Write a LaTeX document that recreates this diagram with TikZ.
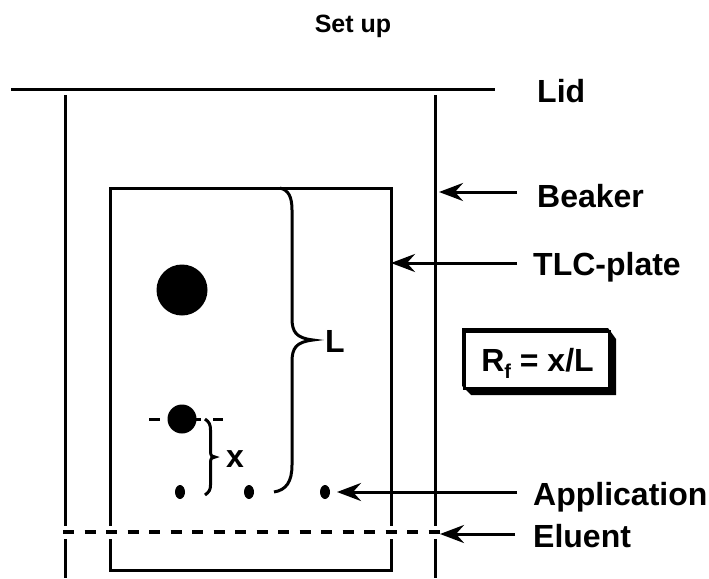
\documentclass[tikz,border=0pt]{standalone}
\usepackage{fontspec}
\setmainfont{Liberation Sans}
\usetikzlibrary{arrows.meta,shapes.geometric}
\tikzset{
  wall/.style={line width=3pt,black},
  lbl/.style={font=\fontsize{32}{36}\selectfont\bfseries,anchor=base west,inner sep=0pt},
  bigtext/.style={font=\fontsize{32}{36}\selectfont\bfseries,anchor=base,inner sep=0pt},
  pointer/.style={line width=3pt,-{Stealth[length=24pt,width=18pt,inset=8pt]}},
  spot/.style={circle,fill=black,inner sep=0pt},
  appl/.style={ellipse,fill=black,inner sep=0pt,minimum width=10pt,minimum height=14pt}
}
\begin{document}
\begin{tikzpicture}[x=1pt,y=-1pt]
\useasboundingbox (0,0) rectangle (709,578);
\node[font=\fontsize{25}{30}\selectfont\bfseries,inner sep=0pt,anchor=base] (title) at (353,33) {Set up};
% lid and beaker
\coordinate (lidL) at (11,89.5); \coordinate (lidR) at (495,89.5);
\draw[line width=3.6pt] (lidL) -- (lidR);
\coordinate (bl1) at (65,95); \coordinate (bl2) at (65,578);
\coordinate (br1) at (435,95); \coordinate (br2) at (435,578);
\draw[wall] (bl1) -- (bl2);
\draw[wall] (br1) -- (br2);
% plate
\node[draw,line width=2.6pt,minimum width=281pt,minimum height=382pt,inner sep=0pt,anchor=north west] (plate) at (109,187) {};
% eluent
\coordinate (elL) at (63,532); \coordinate (elR) at (440,532);
\draw[white,line width=13pt] (elL) -- (elR);
\draw[line width=3.4pt,dash pattern=on 11pt off 10.5pt] (elL) -- (elR);
% spots
\node[spot,minimum size=51pt] (s1) at (182,290) {};
\node[spot,minimum size=29pt] (s2) at (182,419) {};
\coordinate (dl1) at (149,419); \coordinate (dl2) at (160,419);
\coordinate (dr1) at (196,419); \coordinate (dr2) at (223,419);
\draw[line width=3pt] (dl1) -- (dl2);
\draw[line width=3pt,dash pattern=on 5pt off 12pt on 10pt] (dr1) -- (dr2);
\node[appl] (a1) at (180,492) {};
\node[appl] (a2) at (249,492) {};
\node[appl] (a3) at (325,492) {};
% braces
\coordinate (bxT) at (205,419); \coordinate (bxB) at (205,495);
\draw[line width=3pt] (bxT) .. controls (209,422) and (210.5,424) .. (210.5,430) -- (210.5,451) .. controls (210.5,456) and (212,457) .. (215,457) .. controls (212,457) and (210.5,458) .. (210.5,463) -- (210.5,485) .. controls (210.5,490) and (209,492) .. (bxB);
\coordinate (bLT) at (280,188); \coordinate (bLB) at (274,492);
\draw[line width=3pt] (bLT) .. controls (288,190) and (292,196) .. (292,210) -- (292,318) .. controls (292,332) and (296,338) .. (313,340) .. controls (296,342) and (292,348) .. (292,362) -- (292,465) .. controls (292,482) and (286,490) .. (bLB);
\node[bigtext] (x) at (235,467) {x};
\node[bigtext] (L) at (335,352) {L};
% labels
\node[lbl] (lid) at (537,102) {Lid};
\node[lbl] (beaker) at (537,207) {Beaker};
\node[lbl] (tlc) at (533,275) {TLC-plate};
\node[lbl] (app) at (533,505) {Application};
\node[lbl] (elu) at (533,547) {Eluent};
% arrows
\coordinate (sB) at (517,192); \coordinate (pB) at (439,192);
\coordinate (sT) at (517,263); \coordinate (pT) at (391,263);
\coordinate (sA) at (517,492); \coordinate (pA) at (337,492);
\coordinate (sE) at (515,534); \coordinate (pE) at (440,534);
\draw[pointer] (sB) -- (pB);
\draw[pointer] (sT) -- (pT);
\draw[pointer] (sA) -- (pA);
\draw[pointer] (sE) -- (pE);
% Rf box
\fill (462,328) -- (608,328) -- (616,339) -- (616,395) -- (471,395) -- (462,386) -- cycle;
\node[draw,line width=2.6pt,fill=white,minimum width=145pt,minimum height=57pt,inner sep=0pt,anchor=north west] (rf) at (463,330) {};
\node[bigtext] (rft) at (537.5,371) {R\raisebox{-7pt}{\fontsize{20}{22}\selectfont f} = x/L};
\end{tikzpicture}
\end{document}
